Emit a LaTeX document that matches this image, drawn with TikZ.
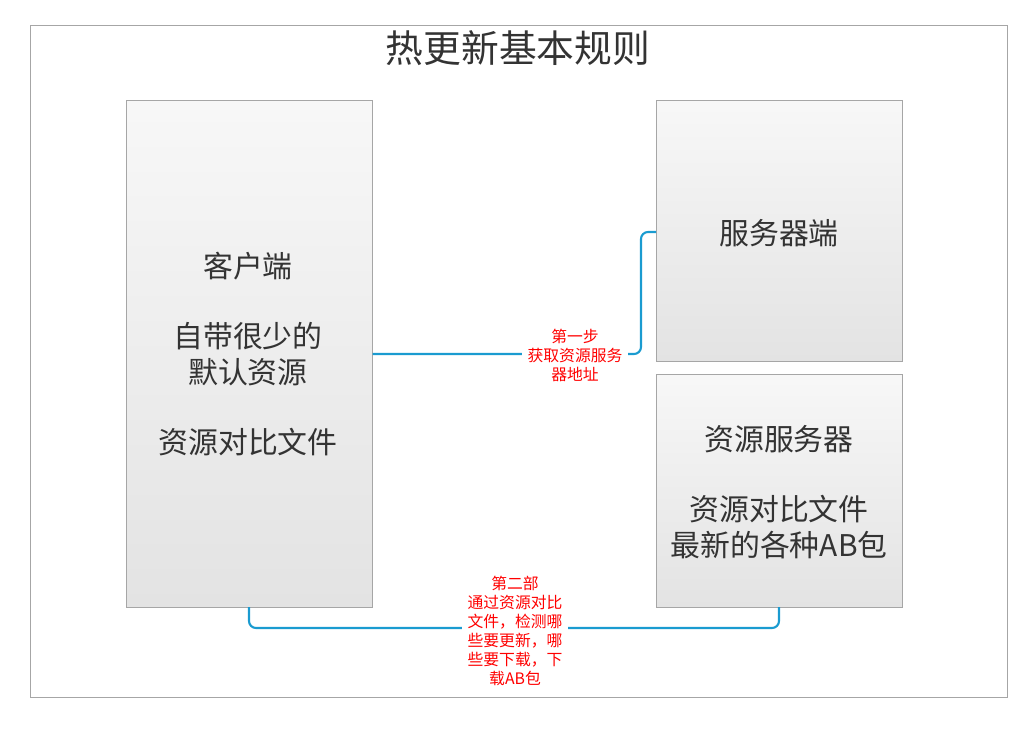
\documentclass[tikz,border=0pt]{standalone}
\usepackage{fontspec}
\newfontfamily\cjk{Noto Sans CJK SC}
\usetikzlibrary{positioning, calc}
\definecolor{linkblue}{HTML}{1A9BD0}

\begin{document}
\begin{tikzpicture}[x=0.02cm, y=-0.02cm,
    panel/.style={rectangle, draw=gray!70, top color=gray!6, bottom color=gray!22, anchor=north west, inner sep=0pt},
    boxtext/.style={font=\cjk\fontsize{17}{20.5}\selectfont, text=black!80, align=center},
    steplabel/.style={font=\cjk\fontsize{9}{10.8}\selectfont, text=red, align=center, fill=white, inner sep=3pt},
    link/.style={draw=linkblue, line width=1.2pt, rounded corners=4pt},
]

\useasboundingbox (0,0) rectangle (1029,728);
\draw[gray!70] (30,25) rectangle (1007,697);

% title
\node[font=\cjk\fontsize{21.5}{25}\selectfont, text=black!80] (title) at (518,48) {热更新基本规则};

% boxes
\node[panel, minimum width=4.92cm, minimum height=10.14cm] (client) at (126,100) {};
\node[panel, minimum width=4.92cm, minimum height=5.22cm] (server) at (656,100) {};
\node[panel, minimum width=4.92cm, minimum height=4.66cm] (res) at (656,374) {};

\node[boxtext] (clienttext) at (248,354) {客户端\\[1.15em]自带很少的\\默认资源\\[1.15em]资源对比文件};
\node[boxtext] (servertext) at (779,233) {服务器端};
\node[boxtext] (restext) at (779,492) {资源服务器\\[1.15em]资源对比文件\\最新的各种AB包};

% connectors
\coordinate (c1) at (client.east |- 0,354);
\coordinate (s1) at (server.west |- 0,232);
\draw[link] (c1) -- (641,354) -- (641,232) -- (s1);
\node[steplabel] (step1) at (575,355) {第一步\\获取资源服务\\器地址};

\coordinate (c2) at (249,607);
\coordinate (r2) at (779,607);
\draw[link] (c2) -- (249,628) -- (779,628) -- (r2);
\node[steplabel] (step2) at (515,631) {第二部\\通过资源对比\\文件，检测哪\\些要更新，哪\\些要下载，下\\载AB包};

\end{tikzpicture}
\end{document}
